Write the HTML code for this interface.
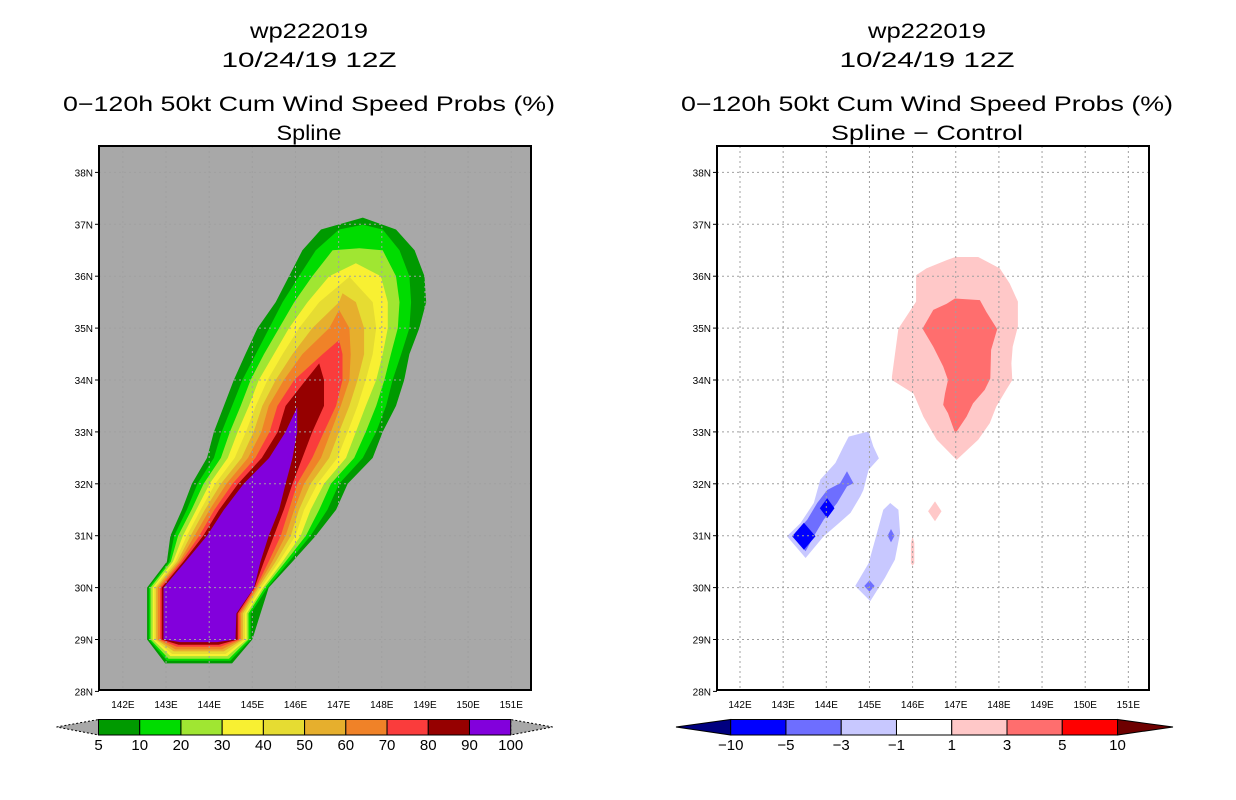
<!DOCTYPE html>
<html><head><meta charset="utf-8"><style>
html,body{margin:0;padding:0;background:#fff;}
svg{display:block;font-family:"Liberation Sans",sans-serif;}
</style></head><body>
<svg id="chart" width="1236" height="800" viewBox="0 0 1236 800">
<rect width="1236" height="800" fill="#fff"/>
<g id="left"></g>
<g id="right"></g>
</svg>
<script>
// ---------- data ----------
const probLevels = [5,10,20,30,40,50,60,70,80,90,100];
const probColors = ["#009a00","#00dc00","#a0e632","#f8f032","#e6dc32","#e6af2d","#f08228","#fa3c3c","#960000","#8200dc"];
const rowLats = [29,29.5,30,30.5,31,31.5,32,32.5,33,33.5,34,34.5,35,35.5,36,36.5,36.9];
const bottomLats = [28.54,28.59,28.63,28.68,28.72,28.77,28.81,28.86,28.90,28.95];
const topPoints = [[147.56,37.13],[147.56,36.99],[147.48,36.54],[147.40,36.25],[147.25,35.99],[147.09,35.67],[147.01,35.35],[147.01,34.77],[146.55,34.32],[146.04,33.48]];
const leftEdges = [
 [142.98,142.56,142.56,142.56,143.02,143.10,143.37,143.60,143.95,144.11,144.34,144.57,144.84,145.12,145.54,145.85,146.16,146.59],
 [143.02,142.60,142.60,142.60,143.07,143.19,143.48,143.73,144.11,144.29,144.53,144.77,145.08,145.39,145.70,146.08,146.47,147.01],
 [143.06,142.64,142.64,142.64,143.11,143.28,143.59,143.87,144.27,144.48,144.73,144.96,145.27,145.62,145.97,146.39,146.86],
 [143.10,142.69,142.69,142.69,143.16,143.39,143.70,144.01,144.43,144.66,144.92,145.15,145.50,145.85,146.28,146.78],
 [143.14,142.73,142.73,142.73,143.21,143.48,143.80,144.14,144.59,144.85,145.08,145.35,145.70,146.08,146.55],
 [143.18,142.77,142.77,142.77,143.26,143.57,143.90,144.27,144.75,145.03,145.23,145.54,145.93,146.39,147.01],
 [143.22,142.81,142.81,142.81,143.31,143.66,144.01,144.40,144.90,145.21,145.38,145.73,146.16,146.78],
 [143.25,142.86,142.86,142.86,143.35,143.77,144.12,144.54,145.07,145.40,145.58,145.97,146.63],
 [143.29,142.90,142.90,142.90,143.40,143.86,144.23,144.67,145.22,145.59,145.77,146.24],
 [143.33,142.94,142.94,142.94,143.45,143.95,144.34,144.80,145.39,145.77]
];
const rightEdges = [
 [144.53,145.00,145.19,145.38,145.93,146.47,146.94,147.21,147.79,148.02,148.33,148.52,148.64,148.87,149.03,148.99,148.76,148.33],
 [144.49,144.96,144.96,145.35,145.85,146.35,146.74,147.01,147.56,147.87,148.10,148.25,148.45,148.64,148.68,148.64,148.41,148.02],
 [144.46,144.91,144.91,145.29,145.77,146.24,146.55,146.82,147.36,147.63,147.87,148.06,148.21,148.37,148.41,148.33,148.02],
 [144.42,144.87,144.87,145.25,145.70,146.12,146.35,146.66,147.17,147.40,147.63,147.87,148.02,148.14,148.14,147.98],
 [144.38,144.83,144.83,145.20,145.62,146.00,146.20,146.51,146.97,147.21,147.44,147.63,147.79,147.87,147.79],
 [144.34,144.78,144.78,145.15,145.54,145.89,146.08,146.35,146.78,147.01,147.25,147.44,147.59,147.59,147.40],
 [144.30,144.74,144.74,145.11,145.46,145.77,145.97,146.20,146.59,146.82,147.05,147.25,147.28,147.25],
 [144.26,144.70,144.70,145.08,145.38,145.66,145.85,146.04,146.39,146.66,146.94,147.09,147.09],
 [144.22,144.66,144.66,145.05,145.27,145.50,145.73,145.93,146.16,146.39,146.66,146.66],
 [144.18,144.61,144.63,145.04,145.19,145.38,145.62,145.77,145.93,146.04]
];
// difference field (lon, lat)
const diffLevels = ["-10","-5","-3","-1","1","3","5","10"];
const diffColors = ["#0000ff","#6e6eff","#c8c8ff","#ffffff","#ffc8c8","#ff6e6e","#ff0000"];
const posLight = [[146.99,36.37],[147.52,36.37],[148.02,36.15],[148.25,35.86],[148.44,35.51],[148.44,35.03],[148.32,34.64],[148.29,34.32],[148.31,34.0],[148.17,33.81],[147.94,33.49],[147.79,33.17],[147.52,32.85],[147.02,32.46],[146.56,32.85],[146.25,33.29],[146.02,33.74],[145.52,34.0],[145.52,34.06],[145.67,34.99],[146.08,35.51],[146.08,36.02],[146.32,36.15],[146.79,36.31]];
const posMedium = [[146.98,35.57],[147.56,35.54],[147.71,35.31],[147.96,34.98],[147.82,34.58],[147.80,34.03],[147.67,33.81],[147.40,33.55],[147.25,33.29],[146.99,32.97],[146.82,33.36],[146.71,33.52],[146.75,33.74],[146.82,34.0],[146.71,34.26],[146.48,34.64],[146.23,34.99],[146.48,35.35],[146.79,35.47]];
const posSmall1 = [[146.36,31.47],[146.52,31.66],[146.67,31.47],[146.52,31.28]];
const posSmall2 = [[145.96,30.86],[146.0,30.99],[146.04,30.86],[146.04,30.47],[146.0,30.42],[145.96,30.47]];
const negLightA = [[144.52,32.91],[144.98,33.01],[145.09,32.72],[145.22,32.49],[144.98,32.27],[144.86,31.88],[144.79,31.76],[144.56,31.44],[144.29,31.24],[143.94,30.99],[143.52,30.57],[143.09,30.99],[143.40,31.24],[143.71,31.63],[143.86,32.08],[144.21,32.40],[144.40,32.72]];
const negMediumA = [[144.48,32.24],[144.63,32.01],[144.48,31.95],[144.25,31.63],[143.94,31.31],[143.71,30.99],[143.52,30.70],[143.21,30.99],[143.56,31.31],[143.79,31.63],[144.02,31.88],[144.32,32.01]];
const negLightB = [[145.48,31.63],[145.67,31.50],[145.71,31.05],[145.59,30.54],[145.36,30.19],[145.02,29.74],[144.67,30.03],[144.98,30.47],[145.13,30.92],[145.32,31.50]];
const negDarkCenters = [[143.48,30.99,0.27,0.26],[144.02,31.53,0.17,0.19]];
const negMedCenters = [[145.50,31.0,0.08,0.13],[145.0,30.03,0.12,0.11]];
const lonTicks = [142,143,144,145,146,147,148,149,150,151];
const latTicks = [28,29,30,31,32,33,34,35,36,37,38];

// ---------- helpers ----------
const NS="http://www.w3.org/2000/svg";
function mk(tag, attrs, parent){const e=document.createElementNS(NS,tag);for(const k in attrs)e.setAttribute(k,attrs[k]);parent.appendChild(e);return e;}
function axes(x0){return {X:lon=>x0+(lon-142)*43.15, Y:lat=>172.4+(38-lat)*51.9};}
function pts(list, ax){return list.map(p=>ax.X(p[0]).toFixed(1)+","+ax.Y(p[1]).toFixed(1)).join(" ");}

function panel(g, boxX, x0, bg, subtitle, cx){
  const ax = axes(x0);
  const titles=[["wp222019",38,118],["10/24/19 12Z",67,175],["0\u2212120h 50kt Cum Wind Speed Probs (%)",111,492],[subtitle,140,subtitle.length>8?192:65]];
  titles.forEach((t,i)=>{
    const e=mk("text",{x:cx,y:t[1],"text-anchor":"middle","font-size":"21",textLength:t[2],lengthAdjust:"spacingAndGlyphs",fill:"#000"},g);
    e.textContent=t[0];
    
    
  });
  const clipId="clip"+boxX;
  const cp=mk("clipPath",{id:clipId},g); mk("rect",{x:boxX,y:146,width:432,height:544},cp);
  const bgR=mk("rect",{x:boxX,y:146,width:432,height:544,fill:bg},g);
  
  
  const fills=mk("g",{"clip-path":"url(#"+clipId+")"},g);
  return {ax,fills,clipId};
}
function grid(g, ax, boxX, clipId){
  const gg=mk("g",{"clip-path":"url(#"+clipId+")",stroke:"#a0a0a0","stroke-width":"1","stroke-dasharray":"2,3"},g);
  lonTicks.forEach(l=>{const e=mk("line",{x1:ax.X(l),x2:ax.X(l),y1:146,y2:690},gg);
    });
  latTicks.forEach(l=>{const e=mk("line",{x1:boxX,x2:boxX+432,y1:ax.Y(l),y2:ax.Y(l)},gg);
    });
  const fr=mk("rect",{x:boxX,y:146,width:432,height:544,fill:"none",stroke:"#000","stroke-width":"2"},g);
  
  latTicks.forEach(l=>{
    const y=ax.Y(l);
    mk("line",{x1:boxX-4,x2:boxX,y1:y,y2:y,stroke:"#000"},g);
    const t=mk("text",{x:boxX-6,y:y+4,"text-anchor":"end","font-size":"10",fill:"#000"},g);
    t.textContent=l+"N";
    
  });
  lonTicks.forEach(l=>{
    const x=ax.X(l);
    const t=mk("text",{x:x,y:708,"text-anchor":"middle","font-size":"10",fill:"#000"},g);
    t.textContent=l+"E";
    
  });
}

// ---------- left panel ----------
const L=document.getElementById("left");
const lp=panel(L,99,122.9,"#a8a8a8","Spline",309);
for(let k=0;k<leftEdges.length;k++){
  const left=leftEdges[k], right=rightEdges[k];
  const poly=[];
  poly.push([left[0],bottomLats[k]]);
  for(let i=1;i<left.length;i++) poly.push([left[i],rowLats[i-1]]);
  poly.push(topPoints[k]);
  for(let i=right.length-1;i>=1;i--) poly.push([right[i],rowLats[i-1]]);
  poly.push([right[0],bottomLats[k]]);
  const e=mk("polygon",{points:pts(poly,lp.ax),fill:probColors[k]},lp.fills);
  
  
}
grid(L,lp.ax,99,lp.clipId);

// left colorbar
const lcb=mk("g",{},L);

const lbX=i=>98.5+i*41.22;
mk("polygon",{points:`56.5,727 98.5,719.5 98.5,735`,fill:"#a8a8a8",stroke:"#000","stroke-dasharray":"2,2","stroke-width":"1"},lcb);
mk("polygon",{points:`552.7,727 510.7,719.5 510.7,735`,fill:"#a8a8a8",stroke:"#000","stroke-dasharray":"2,2","stroke-width":"1"},lcb);
probColors.forEach((c,i)=>{
  const r=mk("rect",{x:lbX(i),y:719.5,width:41.22,height:15.5,fill:c,stroke:"#000","stroke-width":"1"},lcb);
  
});
probLevels.forEach((v,i)=>{
  const t=mk("text",{x:lbX(i),y:750,"text-anchor":"middle","font-size":"15",fill:"#000"},lcb);
  t.textContent=v;
  
});

// ---------- right panel ----------
const R=document.getElementById("right");
const rp=panel(R,717,740,"#ffffff","Spline \u2212 Control",927);
function addPoly(list,color,name){
  const e=mk("polygon",{points:pts(list,rp.ax),fill:color},rp.fills);
  
}
function diamond(c){return [[c[0]-c[2],c[1]],[c[0],c[1]+c[3]],[c[0]+c[2],c[1]],[c[0],c[1]-c[3]]];}
addPoly(posLight,diffColors[4],'diff-contour-pos-1');
addPoly(posMedium,diffColors[5],'diff-contour-pos-3');
addPoly(posSmall1,diffColors[4],'diff-contour-pos-small');
addPoly(posSmall2,diffColors[4],'diff-contour-pos-sliver');
addPoly(negLightA,diffColors[2],'diff-contour-neg-1');
addPoly(negMediumA,diffColors[1],'diff-contour-neg-3');
addPoly(negLightB,diffColors[2],'diff-contour-neg-1-south');
negDarkCenters.forEach(c=>addPoly(diamond(c),diffColors[0],'diff-contour-neg-5'));
negMedCenters.forEach(c=>addPoly(diamond(c),diffColors[1],'diff-contour-neg-3-spot'));
grid(R,rp.ax,717,rp.clipId);

// right colorbar
const rcb=mk("g",{},R);

const rbX=i=>730.7+i*55.26;
mk("polygon",{points:`676,727 730.7,719.5 730.7,735`,fill:"#000080",stroke:"#000","stroke-width":"1"},rcb);
mk("polygon",{points:`1173,727 1117.5,719.5 1117.5,735`,fill:"#6e0000",stroke:"#000","stroke-width":"1"},rcb);
diffColors.forEach((c,i)=>{
  const r=mk("rect",{x:rbX(i),y:719.5,width:55.26,height:15.5,fill:c,stroke:"#000","stroke-width":"1"},rcb);
  
});
diffLevels.forEach((v,i)=>{
  const t=mk("text",{x:rbX(i),y:750,"text-anchor":"middle","font-size":"15",fill:"#000"},rcb);
  t.textContent=v.replace("-","\u2212");
  
});
</script>
</body></html>
